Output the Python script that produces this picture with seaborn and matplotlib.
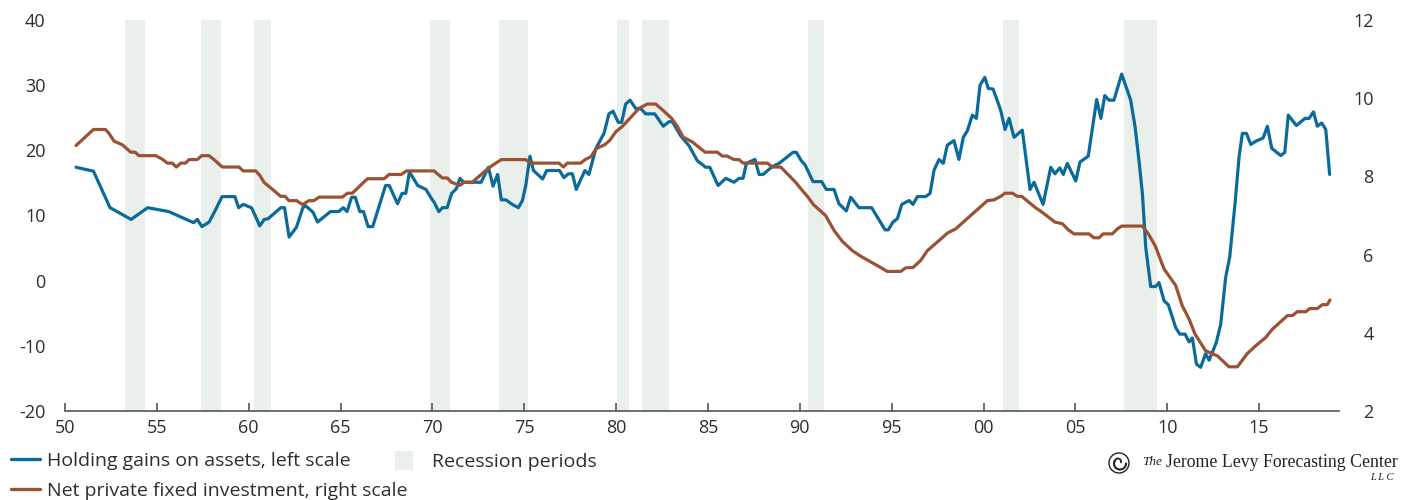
import matplotlib
matplotlib.use("Agg")
import matplotlib.pyplot as plt
import seaborn as sns
import pandas as pd
from matplotlib.lines import Line2D
from matplotlib.patches import Patch, Ellipse, Arc

# Holding gains on assets (percent, left scale)
gain_years = [
    1950.6, 1951.55, 1952.45, 1953.6, 1954.5, 1955.65, 1957.0, 1957.2, 1957.45, 1957.85,
    1958.2, 1958.55, 1959.25, 1959.45, 1959.7, 1960.15, 1960.35, 1960.6, 1960.85, 1961.05,
    1961.75, 1961.95, 1962.2, 1962.6, 1962.95, 1963.1, 1963.5, 1963.75, 1964.45, 1964.9,
    1965.15, 1965.35, 1965.6, 1965.8, 1966.05, 1966.25, 1966.5, 1966.75, 1967.45, 1967.65,
    1968.1, 1968.35, 1968.55, 1968.75, 1969.2, 1969.65, 1969.95, 1970.1, 1970.35, 1970.55,
    1970.8, 1971.05, 1971.3, 1971.5, 1971.7, 1972.65, 1973.05, 1973.3, 1973.55, 1973.75,
    1974.0, 1974.35, 1974.68, 1974.9, 1975.08, 1975.31, 1975.5, 1976.0, 1976.22, 1976.92,
    1977.16, 1977.4, 1977.62, 1977.83, 1978.3, 1978.52, 1978.9, 1979.34, 1979.61, 1979.83,
    1980.12, 1980.3, 1980.52, 1980.76, 1981.07, 1981.34, 1981.61, 1982.1, 1982.57, 1982.88,
    1983.06, 1983.52, 1983.97, 1984.42, 1984.88, 1985.1, 1985.55, 1985.97, 1986.42, 1986.69,
    1986.91, 1987.09, 1987.56, 1987.78, 1988.0, 1988.5, 1988.87, 1989.63, 1989.81, 1990.08,
    1990.28, 1990.72, 1991.19, 1991.44, 1991.86, 1992.13, 1992.53, 1992.77, 1993.22, 1993.91,
    1994.64, 1994.82, 1995.07, 1995.31, 1995.55, 1995.95, 1996.16, 1996.4, 1996.85, 1997.09,
    1997.31, 1997.58, 1997.81, 1998.03, 1998.39, 1998.66, 1998.9, 1999.12, 1999.39, 1999.61,
    1999.81, 2000.07, 2000.26, 2000.52, 2000.93, 2001.17, 2001.39, 2001.66, 2002.11, 2002.53,
    2002.75, 2003.24, 2003.66, 2003.89, 2004.15, 2004.34, 2004.56, 2005.02, 2005.25, 2005.7,
    2006.16, 2006.39, 2006.6, 2006.83, 2007.1, 2007.52, 2008.01, 2008.25, 2008.46, 2008.65,
    2008.83, 2009.1, 2009.37, 2009.55, 2009.83, 2010.06, 2010.46, 2010.68, 2010.97, 2011.19,
    2011.37, 2011.59, 2011.82, 2012.09, 2012.28, 2012.67, 2012.91, 2013.18, 2013.4, 2013.69,
    2013.91, 2014.09, 2014.31, 2014.55, 2014.82, 2015.22, 2015.45, 2015.69, 2016.18, 2016.4,
    2016.59, 2017.03, 2017.5, 2017.72, 2017.96, 2018.17, 2018.41, 2018.63, 2018.84,
]
gain_values = [
    17.4, 16.8, 11.2, 9.4, 11.2, 10.6, 8.9, 9.4, 8.3, 9.0,
    10.9, 12.9, 12.9, 11.2, 11.7, 11.2, 10.0, 8.4, 9.4, 9.5,
    11.2, 11.2, 6.7, 8.2, 11.2, 11.5, 10.5, 9.0, 10.6, 10.6,
    11.2, 10.6, 12.8, 12.8, 10.6, 10.6, 8.3, 8.3, 14.6, 14.6,
    11.8, 13.4, 13.4, 16.7, 14.6, 14.0, 12.6, 12.0, 10.6, 11.2,
    11.2, 13.4, 14.1, 15.7, 15.1, 15.1, 17.4, 14.5, 16.3, 12.4,
    12.4, 11.7, 11.2, 12.3, 14.6, 19.1, 16.9, 15.6, 16.9, 16.9,
    15.8, 16.4, 16.4, 14.0, 16.9, 16.3, 20.3, 22.6, 25.6, 26.0,
    24.3, 24.3, 27.1, 27.7, 26.4, 26.4, 25.6, 25.6, 23.7, 24.4,
    24.4, 22.2, 20.7, 18.4, 17.4, 17.4, 14.6, 15.7, 15.1, 15.7,
    15.7, 18.0, 18.6, 16.3, 16.3, 17.5, 18.0, 19.7, 19.7, 18.4,
    17.8, 15.2, 15.2, 14.0, 14.0, 11.8, 10.7, 12.8, 11.2, 11.2,
    7.8, 7.8, 9.0, 9.5, 11.7, 12.3, 11.7, 12.9, 12.9, 13.4,
    17.0, 18.6, 18.0, 20.8, 21.5, 18.6, 22.0, 23.0, 25.4, 24.9,
    30.0, 31.2, 29.5, 29.4, 26.2, 23.2, 24.9, 22.0, 23.1, 14.0,
    15.1, 11.7, 17.4, 16.4, 17.3, 16.3, 18.0, 15.3, 18.2, 19.1,
    27.8, 24.9, 28.4, 27.7, 27.7, 31.7, 27.7, 23.6, 18.5, 13.3,
    5.1, -0.9, -0.9, -0.3, -3.1, -3.7, -7.2, -8.2, -8.2, -9.4,
    -8.8, -12.8, -13.3, -11.2, -12.2, -9.5, -6.7, 0.5, 3.6, 11.8,
    19.0, 22.6, 22.6, 20.9, 21.4, 21.9, 23.7, 20.3, 19.2, 19.7,
    25.4, 23.8, 24.9, 24.9, 25.9, 23.7, 24.2, 23.2, 16.3,
]

# Net private fixed investment (percent, right scale)
invest_years = [
    1950.6, 1951.55, 1952.2, 1952.4, 1952.67, 1953.12, 1953.58, 1953.81, 1954.03, 1954.94,
    1955.3, 1955.57, 1955.84, 1956.06, 1956.3, 1956.57, 1956.75, 1957.2, 1957.44, 1957.84,
    1958.11, 1958.56, 1959.47, 1959.7, 1960.38, 1960.6, 1960.83, 1961.29, 1961.74, 1961.98,
    1962.19, 1962.61, 1962.92, 1963.28, 1963.55, 1963.83, 1965.1, 1965.37, 1965.64, 1966.46,
    1967.37, 1967.64, 1968.31, 1968.58, 1970.09, 1970.54, 1970.81, 1971.03, 1971.5, 1971.72,
    1972.17, 1972.9, 1973.26, 1973.75, 1975.08, 1975.35, 1976.89, 1977.13, 1977.34, 1978.07,
    1978.31, 1978.62, 1978.92, 1979.38, 1979.65, 1979.98, 1980.34, 1980.74, 1981.25, 1981.7,
    1982.16, 1982.55, 1983.03, 1983.33, 1983.64, 1984.15, 1984.84, 1985.51, 1985.78, 1986.05,
    1986.42, 1986.69, 1986.91, 1988.23, 1988.5, 1988.96, 1989.77, 1990.08, 1990.41, 1990.74,
    1991.4, 1991.86, 1992.31, 1992.86, 1993.31, 1993.95, 1994.4, 1994.76, 1995.49, 1995.76,
    1996.16, 1996.58, 1996.94, 1997.58, 1998.03, 1998.49, 2000.21, 2000.57, 2000.94, 2001.17,
    2001.57, 2001.84, 2002.08, 2002.8, 2003.2, 2003.89, 2004.29, 2004.62, 2004.93, 2005.74,
    2006.01, 2006.29, 2006.51, 2007.01, 2007.29, 2007.52, 2008.65, 2008.97, 2009.34, 2009.83,
    2010.46, 2010.82, 2011.19, 2011.51, 2012.09, 2012.73, 2013.36, 2013.82, 2014.36, 2014.82,
    2015.36, 2015.72, 2016.54, 2016.81, 2017.08, 2017.54, 2017.76, 2018.17, 2018.44, 2018.71,
    2018.86,
]
invest_values = [
    8.79, 9.2, 9.2, 9.1, 8.9, 8.81, 8.62, 8.62, 8.53, 8.53,
    8.44, 8.34, 8.34, 8.24, 8.34, 8.34, 8.43, 8.43, 8.53, 8.53,
    8.43, 8.24, 8.24, 8.14, 8.14, 8.03, 7.85, 7.67, 7.49, 7.49,
    7.38, 7.38, 7.28, 7.38, 7.38, 7.47, 7.47, 7.57, 7.57, 7.94,
    7.94, 8.05, 8.05, 8.14, 8.14, 7.96, 7.96, 7.85, 7.77, 7.85,
    7.85, 8.15, 8.28, 8.43, 8.43, 8.34, 8.34, 8.24, 8.34, 8.34,
    8.43, 8.5, 8.71, 8.81, 8.92, 9.14, 9.28, 9.48, 9.74, 9.85,
    9.85, 9.69, 9.48, 9.28, 9.01, 8.88, 8.62, 8.62, 8.52, 8.52,
    8.43, 8.43, 8.34, 8.34, 8.24, 8.24, 7.85, 7.67, 7.49, 7.28,
    7.0, 6.62, 6.34, 6.1, 5.96, 5.79, 5.67, 5.57, 5.57, 5.66,
    5.67, 5.85, 6.1, 6.36, 6.55, 6.66, 7.38, 7.4, 7.49, 7.57,
    7.57, 7.49, 7.49, 7.21, 7.08, 6.83, 6.79, 6.63, 6.53, 6.53,
    6.43, 6.43, 6.53, 6.53, 6.66, 6.73, 6.73, 6.53, 6.23, 5.63,
    5.21, 4.69, 4.35, 3.97, 3.54, 3.41, 3.13, 3.13, 3.47, 3.67,
    3.88, 4.09, 4.44, 4.44, 4.54, 4.54, 4.62, 4.62, 4.72, 4.72,
    4.84,
]

# Recession periods
recession_starts = [1953.25, 1957.4, 1960.3, 1969.85, 1973.65, 1980.05, 1981.4, 1990.45, 2001.05, 2007.65]
recession_ends = [1954.35, 1958.5, 1961.2, 1970.95, 1975.2, 1980.7, 1982.9, 1991.3, 2001.95, 2009.45]

# Axis ticks
x_ticks = [1950, 1955, 1960, 1965, 1970, 1975, 1980, 1985, 1990, 1995, 2000, 2005, 2010, 2015]
x_tick_labels = ["50", "55", "60", "65", "70", "75", "80", "85", "90", "95", "00", "05", "10", "15"]
left_ticks = [-20, -10, 0, 10, 20, 30, 40]
right_ticks = [2, 4, 6, 8, 10, 12]

gain_label = "Holding gains on assets, left scale"
invest_label = "Net private fixed investment, right scale"
recession_label = "Recession periods"

BLUE = "#0a6b9b"
BROWN = "#9a5232"
BAND = "#e9efeb"
TEXT = "#2e2e2e"
AXIS = "#555555"

sns.set_theme(style="white")
plt.rcParams["font.family"] = ["Open Sans", "DejaVu Sans"]
plt.rcParams["axes.unicode_minus"] = False

W, H = 1413, 500
fig = plt.figure(figsize=(W / 100, H / 100), dpi=100)
ax = fig.add_axes([65 / W, 1 - 411 / H, 1274 / W, 391 / H])
ax2 = ax.twinx()

for s, e in zip(recession_starts, recession_ends):
    ax.axvspan(s, e, color=BAND, lw=0, zorder=0)

gains = pd.DataFrame({"year": gain_years, "value": gain_values})
invest = pd.DataFrame({"year": invest_years, "value": invest_values})
sns.lineplot(data=gains, x="year", y="value", ax=ax, color=BLUE, linewidth=2.3, zorder=3)
sns.lineplot(data=invest, x="year", y="value", ax=ax2, color=BROWN, linewidth=2.3, zorder=3)

ax.set_xlim(1950, 2019.35)
ax.set_ylim(-20, 40)
ax2.set_ylim(2, 12)
ax.set_xlabel("")
ax.set_ylabel("")
ax2.set_ylabel("")

ax.set_xticks(x_ticks)
ax.set_xticklabels(x_tick_labels)
ax.set_yticks(left_ticks)
ax2.set_yticks(right_ticks)

for a in (ax, ax2):
    for side in ("left", "right", "top"):
        a.spines[side].set_visible(False)
    a.grid(False)
ax2.spines["bottom"].set_visible(False)
ax.spines["bottom"].set_color(AXIS)
ax.spines["bottom"].set_linewidth(1.2)

FS = 13
LEG_FS = 14
ax.tick_params(axis="x", direction="in", length=6, width=1.2, color=AXIS, pad=6,
               labelsize=FS, labelcolor=TEXT, bottom=True)
ax.tick_params(axis="y", length=0, pad=14, labelsize=FS, labelcolor=TEXT)
ax2.tick_params(axis="y", length=0, pad=25, labelsize=FS, labelcolor=TEXT)
plt.setp(ax2.get_yticklabels(), ha="right")

# Legends
line_handles = [Line2D([], [], color=BLUE, lw=2.4), Line2D([], [], color=BROWN, lw=2.4)]
leg1 = fig.legend(line_handles, [gain_label, invest_label], loc="upper left",
                  bbox_to_anchor=(11 / W, 1 - 452 / H), frameon=False, fontsize=LEG_FS,
                  handlelength=1.5, handletextpad=0.36, labelspacing=0.6,
                  borderaxespad=0, borderpad=0, labelcolor=TEXT)
leg2 = fig.legend([Patch(color=BAND, lw=0)], [recession_label], loc="upper left",
                  bbox_to_anchor=(395 / W, 1 - 451 / H), frameon=False, fontsize=LEG_FS,
                  handlelength=0.95, handleheight=1.1, handletextpad=0.95,
                  borderaxespad=0, borderpad=0, labelcolor=TEXT)

# Forecasting center mark
INK = "#222222"
cx, cy = 1119 / W, 1 - 463 / H
fig.patches.append(Ellipse((cx, cy), 20 / W, 20 / H, transform=fig.transFigure,
                           fill=False, ec=INK, lw=1.0))
fig.patches.append(Arc((cx + 1.0 / W, cy - 0.5 / H), 12 / W, 12 / H, theta1=120, theta2=20,
                       transform=fig.transFigure, ec=INK, lw=1.5))
fig.patches.append(Arc((cx - 1.0 / W, cy + 1.5 / H), 6 / W, 6 / H, theta1=-60, theta2=200,
                       transform=fig.transFigure, ec=INK, lw=1.3))
serif = ["Liberation Serif", "DejaVu Serif"]
fig.text(1142 / W, 1 - 465 / H, "The", family=serif, style="italic", fontsize=9.5,
         color=INK, va="baseline", ha="left")
fig.text(1166 / W, 1 - 467 / H, "Jerome Levy Forecasting Center", family=serif,
         fontsize=12.8, color=INK, va="baseline", ha="left")
fig.text(1394 / W, 1 - 480 / H, "L L C", family=serif, style="italic", fontsize=7.5,
         color=INK, va="baseline", ha="right")

fig.savefig("out.png", dpi=100)
